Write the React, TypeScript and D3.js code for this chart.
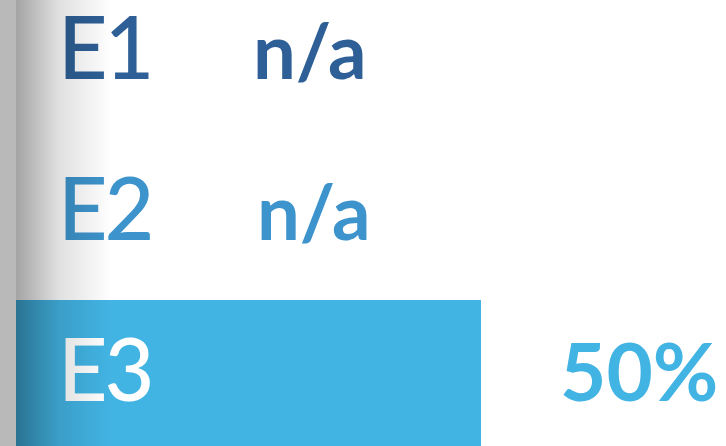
import React from "react";
import * as d3 from "d3";

const rows = ["E1", "E2", "E3"];
const values: (number | null)[] = [null, null, 50];
const rowColors = ["#2e5f96", "#3d94cc", "#42b4e4"];

const W = 726;
const H = 446;

export default function App() {
  const y = d3
    .scaleBand<string>()
    .domain(rows)
    .range([-22, H])
    .paddingInner(15 / 161)
    .paddingOuter(0);

  const x = d3.scaleLinear().domain([0, 100]).range([16, 946]);

  return (
    <div style={{ position: "fixed", left: 0, top: 0 }}>
      <svg width={W} height={H} style={{ display: "block" }}>
        <defs>
          <linearGradient id="shade" x1="0" x2="1" y1="0" y2="0">
            <stop offset="0" stopColor="#000" stopOpacity={0.36} />
            <stop offset="0.45" stopColor="#000" stopOpacity={0.12} />
            <stop offset="1" stopColor="#000" stopOpacity={0} />
          </linearGradient>
        </defs>
        <rect x={0} y={0} width={W} height={H} fill="#fff" />

        {rows.map((r, i) => {
          const v = values[i];
          const top = y(r)!;
          const base = top + y.bandwidth() / 2 + 28;
          const hasBar = v != null;
          return (
            <g key={r}>
              {hasBar && (
                <rect
                  x={x(0)}
                  y={top}
                  width={x(v!) - x(0)}
                  height={y.bandwidth()}
                  fill={rowColors[i]}
                />
              )}
              <text
                x={58}
                y={base}
                fill={hasBar ? "#fff" : rowColors[i]}
                fontFamily="Lato, 'Open Sans', sans-serif"
                fontWeight={500}
                fontSize={86}
                letterSpacing={-3}
              >
                {r}
              </text>
              <text
                x={hasBar ? x(v!) + 79 : 253 + i * 4}
                y={base}
                fill={rowColors[i]}
                fontFamily="Lato, 'Open Sans', sans-serif"
                fontWeight={700}
                fontSize={hasBar ? 80 : 76}
              >
                {hasBar ? `${v}%` : "n/a"}
              </text>
            </g>
          );
        })}

        <rect x={16} y={0} width={96} height={H} fill="url(#shade)" />
        <rect x={0} y={0} width={16} height={H} fill="#b9b9b9" />
      </svg>
    </div>
  );
}
